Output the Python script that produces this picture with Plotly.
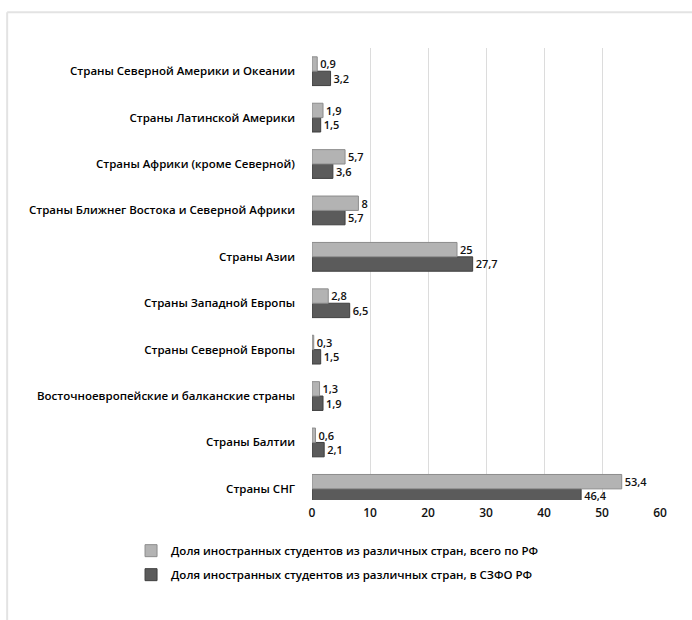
import plotly.graph_objects as go

categories = [
    "Страны СНГ",
    "Страны Балтии",
    "Восточноевропейские и балканские страны",
    "Страны Северной Европы",
    "Страны Западной Европы",
    "Страны Азии",
    "Страны Ближнег Востока и Северной Африки",
    "Страны Африки (кроме Северной)",
    "Страны Латинской Америки",
    "Страны Северной Америки и Океании",
]
share_rf = [53.4, 0.6, 1.3, 0.3, 2.8, 25, 8, 5.7, 1.9, 0.9]
share_szfo = [46.4, 2.1, 1.9, 1.5, 6.5, 27.7, 5.7, 3.6, 1.5, 3.2]
name_rf = "Доля иностранных студентов из различных стран, всего по РФ"
name_szfo = "Доля иностранных студентов из различных стран, в СЗФО РФ"
x_ticks = [0, 10, 20, 30, 40, 50, 60]


def fmt(v):
    s = ("%g" % v)
    return s.replace(".", ",")


FONT = "Open Sans"
fig = go.Figure()
fig.add_trace(go.Bar(
    y=categories, x=share_szfo, orientation="h", name=name_szfo,
    legendgroup="szfo",
    marker=dict(color="#5b5b5b", line=dict(color="#3f3f3f", width=1)),
    text=[fmt(v) for v in share_szfo], textposition="outside",
    textfont=dict(family=FONT, size=11.5, color="#111", weight=600),
    cliponaxis=False, legendrank=2,
))
fig.add_trace(go.Bar(
    y=categories, x=share_rf, orientation="h", name=name_rf,
    legendgroup="rf",
    marker=dict(color="#b3b3b3", line=dict(color="#8c8c8c", width=1)),
    text=[fmt(v) for v in share_rf], textposition="outside",
    textfont=dict(family=FONT, size=11.5, color="#111", weight=600),
    cliponaxis=False, legendrank=1,
))

# frame lines (left and top) of the chart area
fig.add_shape(type="line", xref="paper", yref="paper", x0=-0.876, x1=1.2,
              y0=1.079, y1=1.079, line=dict(color="#e3e3e3", width=2))
fig.add_shape(type="line", xref="paper", yref="paper", x0=-0.876, x1=-0.876,
              y0=1.079, y1=-0.3, line=dict(color="#e3e3e3", width=2))

fig.update_layout(
    width=692, height=620,
    margin=dict(l=312, r=32, t=48, b=120),
    paper_bgcolor="white", plot_bgcolor="white",
    barmode="group", bargap=0.38, bargroupgap=0,
    font=dict(family=FONT, size=11, color="#111"),
    xaxis=dict(range=[0, 60], tickvals=x_ticks, showgrid=True,
               gridcolor="#dcdcdc", gridwidth=1, zeroline=False,
               showline=False, ticks="", ticklabelstandoff=4,
               tickfont=dict(family=FONT, size=12, color="#111", weight=600)),
    yaxis=dict(range=[-0.24, 9.5], showgrid=False, zeroline=False,
               showline=False, ticks="", ticklabelstandoff=16,
               tickfont=dict(family=FONT, size=11.5, color="#000", weight=600)),
    legend=dict(x=-0.52, y=-0.08, xanchor="left", yanchor="top",
                orientation="v", traceorder="grouped",
                font=dict(family=FONT, size=11.5, color="#000", weight=600),
                itemwidth=30, tracegroupgap=5),
    showlegend=True,
)

fig.write_html("out.html")
